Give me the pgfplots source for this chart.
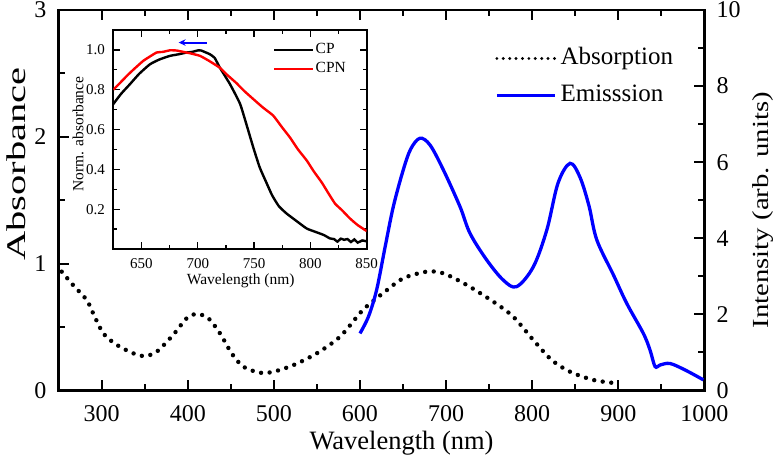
\documentclass[border=0pt]{standalone}
\usepackage{fontspec}
\setmainfont{Liberation Serif}
\usepackage{graphicx}
\usepackage{pgfplots}
\pgfplotsset{compat=1.18}
\usetikzlibrary{arrows.meta}
\begin{document}
\begin{tikzpicture}
\pgfplotsset{
  mainstyle/.style={
    scale only axis, width=645.8pt, height=380.5pt,
    xmin=250, xmax=1000,
    xtick={300,400,...,1000}, minor xtick={250,350,...,950},
    tick align=inside,
    major tick length=10pt, minor tick length=6pt,
    every tick/.style={line width=2pt, black},
    axis line style={line width=2.4pt},
    /pgf/number format/assume math mode=true,
    /pgf/number format/1000 sep={},
    ticklabel style={font=\fontsize{24}{28}\selectfont, inner sep=0pt},
  }
}
% ---------- main axis, left y ----------
\begin{axis}[mainstyle, name=main,
  ymin=0, ymax=3, ytick={0,1,2,3}, minor ytick={0.5,1.5,2.5},
  ytick pos=left,
  xticklabel style={yshift=-14.5pt},
  yticklabel style={xshift=-12pt},
  xlabel={Wavelength (nm)},
  xlabel style={at={(axis description cs:0.531,-0.155)}, anchor=base, inner sep=0pt, font=\fontsize{26.5}{30}\selectfont},
  ylabel={\scalebox{1.5}[1]{Absorbance}},
  ylabel style={at={(axis description cs:-0.052,0.595)}, rotate=0, anchor=base, inner sep=0pt, font=\fontsize{27}{30}\selectfont},
]
\addplot[black, line width=4.4pt, line cap=round, dash pattern=on 0pt off 8.6pt, smooth] coordinates {
(253.6,0.937) (267,0.83) (282.6,0.714) (290,0.61) (302,0.45) (317.5,0.36) (336.8,0.293) (350,0.272) (364,0.306) (383,0.438) (398.8,0.57) (410.4,0.603) (423.9,0.57) (437.5,0.45) (451,0.293) (464.5,0.188) (484,0.14) (499.4,0.148) (522.6,0.2) (549.8,0.293) (576.8,0.424) (600,0.61) (609.7,0.674) (631,0.79) (650.3,0.885) (677.5,0.937) (696.8,0.924) (724,0.832) (754.9,0.70) (778,0.582) (801.3,0.398) (822.7,0.24) (844,0.148) (871,0.083) (898,0.057)
};
\end{axis}
% ---------- main axis, right y ----------
\begin{axis}[mainstyle,
  ymin=0, ymax=10, ytick={0,2,...,10}, minor ytick={1,3,...,9},
  axis y line*=right, axis x line=none,
  yticklabel style={anchor=west, xshift=12pt},
  ylabel={\scalebox{1.25}[1]{Intensity (arb. units)}},
  ylabel style={at={(axis description cs:1.0985,0.474)}, rotate=0, anchor=base, inner sep=0pt, font=\fontsize{23}{27}\selectfont},
  legend style={draw=none, fill=none, at={(axis description cs:0.6758,0.902)}, anchor=north west, inner sep=0pt,
    font=\fontsize{25}{28}\selectfont, row sep=14.7pt, column sep=4pt,
    nodes={inner sep=0pt, text height=17pt, text depth=5pt}},
  legend cell align=left,
  legend image code/.code={\draw[#1] (0pt,0pt) -- (58pt,0pt);},
]
\addlegendimage{black, line width=3.2pt, line cap=round, dash pattern=on 0pt off 6.4pt}
\addlegendentry{Absorption}
\addplot[blue, line width=3.3pt, smooth, tension=0.55] coordinates {
(600,1.50) (610,1.95) (619.4,2.65) (629,3.75) (638.7,4.83) (650.3,5.80) (659,6.35) (669.7,6.63) (681.4,6.45) (696.8,5.80) (716.2,4.83) (727.8,4.13) (747.2,3.43) (766.5,2.90) (782,2.73) (801.3,3.25) (817,4.22) (830,5.45) (844,5.97) (855.6,5.60) (866,4.85) (875,3.96) (894.3,3.04) (909.8,2.29) (929.1,1.50) (936.9,1.06) (942.7,0.63) (948.5,0.67) (960,0.71) (977.5,0.54) (998.8,0.28)
};
\addlegendentry{Emisssion}
\end{axis}
% ---------- inset ----------
\begin{axis}[at={(54.7pt,141.5pt)}, anchor=south west,
  scale only axis, width=253.4pt, height=219pt,
  xmin=625, xmax=850, ymin=0, ymax=1.1,
  xtick={650,700,...,850}, minor xtick={675,725,...,825},
  ytick={0.2,0.4,...,1.0}, minor ytick={0.1,0.3,...,0.9},
  tick align=inside, major tick length=7pt, minor tick length=4pt,
  every tick/.style={line width=1.3pt, black},
  axis line style={line width=1.6pt},
  axis background/.style={fill=white},
  /pgf/number format/assume math mode=true,
  /pgf/number format/1000 sep={},
  ticklabel style={font=\fontsize{15}{18}\selectfont, inner sep=0pt},
  yticklabel style={/pgf/number format/.cd, fixed, fixed zerofill, precision=1, /tikz/.cd, xshift=-8.3pt},
  xticklabel style={yshift=-9.3pt},
  xlabel={Wavelength (nm)},
  xlabel style={at={(axis description cs:0.503,-0.16)}, anchor=base, inner sep=0pt, font=\fontsize{15.5}{18}\selectfont},
  ylabel={Norm. absorbance},
  ylabel style={at={(axis description cs:-0.1184,0.525)}, rotate=0, anchor=base, inner sep=0pt, font=\fontsize{15.5}{18}\selectfont},
  legend style={draw=none, fill=none, at={(axis description cs:0.630,0.9406)}, anchor=north west, inner sep=0pt,
    font=\fontsize{15.5}{18}\selectfont, row sep=5pt, column sep=1.5pt,
    nodes={inner sep=0pt, text height=10.5pt, text depth=3.5pt}},
  legend cell align=left,
  legend image code/.code={\draw[#1] (0pt,0pt) -- (38.7pt,0pt);},
]
\addplot[black, line width=2.4pt, smooth, tension=0.3] coordinates {
(625,0.728) (632,0.78) (639.8,0.828) (648,0.88) (657.6,0.928) (666,0.952) (675.3,0.97) (683,0.978) (690.2,0.987) (695,0.99) (700.5,0.998) (703,0.997) (706,0.99) (710.8,0.978) (715,0.96) (719.7,0.91) (728.6,0.828) (737.5,0.73) (743,0.63) (749.3,0.51) (755,0.41) (761.2,0.33) (766,0.27) (772,0.215) (778.9,0.178) (787.8,0.14) (796.7,0.103) (805,0.085) (812,0.07) (817.4,0.053) (821,0.05) (824,0.037) (827,0.052) (830,0.046) (833,0.05) (836,0.035) (839,0.048) (842,0.032) (846,0.043) (850,0.038)
};
\addlegendentry{CP}
\addplot[red, line width=2.4pt, smooth, tension=0.3] coordinates {
(625,0.80) (632,0.84) (638,0.875) (645,0.912) (651.6,0.945) (657,0.965) (663.5,0.987) (669,0.99) (675.3,0.998) (681,0.997) (687.2,0.99) (694,0.982) (702,0.97) (710,0.945) (719.7,0.91) (726,0.875) (734,0.835) (741,0.795) (749.3,0.753) (758,0.71) (767,0.67) (775,0.61) (781.9,0.56) (789,0.5) (796.7,0.445) (803,0.39) (810,0.335) (816,0.28) (821.9,0.228) (828,0.195) (835.2,0.153) (842,0.12) (850,0.09)
};
\addlegendentry{CPN}
\draw[blue, line width=2pt, -{Stealth[length=7pt, width=6.5pt]}] (axis cs:708,1.037) -- (axis cs:683,1.037);
\end{axis}
\pgfresetboundingbox
\path (-58.6pt,-64.5pt) rectangle (718.4pt,390.5pt);
\end{tikzpicture}
\end{document}
